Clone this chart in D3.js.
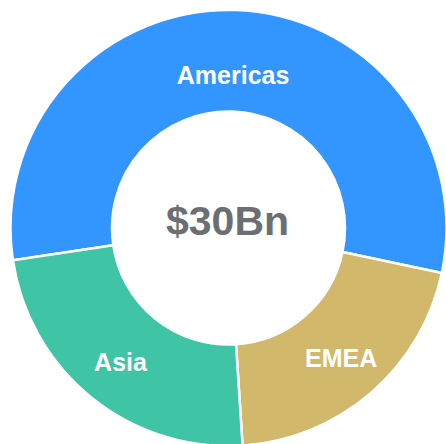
<!doctype html>
<html lang="en">
<head>
<meta charset="utf-8">
<title>revenue donut</title>
<script src="https://d3js.org/d3.v7.min.js"></script>
<style>
  body { margin: 0; background: #fff; }
  svg { display: block; }
  .slice { stroke: #fff; stroke-width: 2.5; }
  .lbl { fill: #fff; font-family: "Liberation Sans", Arial, sans-serif; font-weight: bold; font-size: 25px; }
  .total { fill: #6b6e73; font-family: "Liberation Sans", Arial, sans-serif; font-weight: bold; font-size: 41px; }
</style>
</head>
<body>
<div id="chart"></div>
<script>
// regions in clockwise order, values in $Bn
var regions = ["Americas", "EMEA", "Asia"];
var revenue = [16.7, 6.2, 7.1];
var colours = ["#3396fe", "#d1b86b", "#3fc4a5"];
var totalLabel = "$30Bn";

var width = 446, height = 444;
var cx = 228.5, cy = 228;
var outerR = 218, innerR = 116.5;

var svg = d3.select("#chart").append("svg")
  .attr("width", width)
  .attr("height", height);

var g = svg.append("g").attr("transform", "translate(" + cx + "," + cy + ")");

var start = -98.5 * Math.PI / 180;
var pie = d3.pie().sort(null).value(function(d){ return d; })
  .startAngle(start).endAngle(start + 2 * Math.PI);

var arc = d3.arc().innerRadius(innerR).outerRadius(outerR);
var slices = pie(revenue);

g.selectAll("path").data(slices).enter().append("path")
  .attr("class", "slice")
  .attr("d", arc)
  .attr("fill", function(d, i){ return colours[i]; });

// big slice label sits a little closer to the hole
function labelPos(d) {
  var r = (d.endAngle - d.startAngle) > Math.PI ? 153.5 : 172;
  var a = (d.startAngle + d.endAngle) / 2;
  return [r * Math.sin(a), -r * Math.cos(a)];
}

g.selectAll("text.lbl").data(slices).enter().append("text")
  .attr("class", "lbl")
  .attr("text-anchor", "middle")
  .attr("x", function(d){ return labelPos(d)[0]; })
  .attr("y", function(d){ return labelPos(d)[1]; })
  .attr("dy", "0.36em")
  .text(function(d, i){ return regions[i]; });

g.append("text")
  .attr("class", "total")
  .attr("text-anchor", "middle")
  .attr("x", -1)
  .attr("y", 7)
  .text(totalLabel);
</script>
</body>
</html>
